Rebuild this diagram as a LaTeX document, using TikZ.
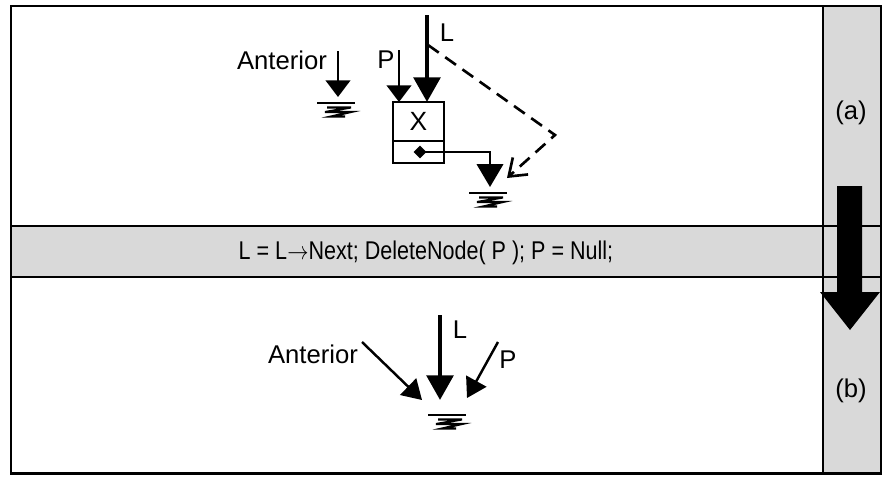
\documentclass[tikz,border=0pt]{standalone}
\usepackage{fontspec}
\setmainfont{Liberation Sans}
\usetikzlibrary{arrows.meta,shapes.geometric}
\definecolor{panelgray}{RGB}{217,217,217}
\tikzset{
  lab/.style={font=\fontsize{14.6}{17}\selectfont, inner sep=0pt},
  cell/.style={draw, line width=1.4pt, minimum width=1.02cm, inner sep=0pt, outer sep=0pt,
    font=\fontsize{15}{17}\selectfont},
  thickarrow/.style={line width=2.6pt, -{Triangle[width=15pt,length=14pt]}},
  thinarrow/.style={line width=1.4pt, -{Triangle[width=14pt,length=9.5pt]}},
  slantarrow/.style={line width=1.4pt, -{Triangle[width=13pt,length=11pt]}},
  dasharrow/.style={line width=1.5pt, dash pattern=on 7.5pt off 4.5pt,
    -{Straight Barb[width=13pt,length=9pt,line width=1.5pt]}},
  ground/.pic={
    \draw[line width=1.4pt] (-19,0) -- (19,0);
    \draw[line width=1.2pt] (-9,4.5) -- (15,4.5) -- (-11,9) -- (15,9) -- (-5,13.5) -- (9,13.5);
  }
}
\begin{document}
\begin{tikzpicture}[x=0.02cm, y=-0.02cm]
    \useasboundingbox (0,0) rectangle (890,484);
    % Panels and frame
    \fill[panelgray] (823,6) rectangle (881,473);
    \fill[panelgray] (11,226) rectangle (881,277);
    \draw[line width=1.7pt] (11,226) -- (881,226) (11,277) -- (881,277);
    \draw[line width=1.7pt] (823,6) -- (823,473);
    \draw[line width=1.7pt] (11,6) rectangle (881,473);

    % Step arrow in the side column
    \fill (837,186) -- (862,186) -- (862,292) -- (880,292) -- (850,330) -- (820,292) -- (837,292) -- cycle;

    % Side labels and code line
    \node[lab, anchor=base] (stepa) at (851,119) {(a)};
    \node[lab, anchor=base] (stepb) at (851,397) {(b)};
    \node[lab, anchor=base] (code) at (426,259)
        {\scalebox{0.84}[1]{L = L$\rightarrow$Next; DeleteNode( P ); P = Null;}};

    % Step (a)
    \node[lab] (antA) at (282,60) {Anterior};
    \coordinate (antAtop) at (338,51);
    \coordinate (antAtip) at (338,97);
    \draw[thinarrow] (antAtop) -- (antAtip);
    \pic at (336,103) {ground};

    \node[cell, minimum height=0.78cm] (xcell) at (418.5,121.5) {X};
    \node[cell, minimum height=0.44cm, anchor=north] (nextcell) at (xcell.south) {};
    \node[diamond, fill, inner sep=0pt, minimum size=7.5pt] (ptr) at ([xshift=0.03cm]nextcell.center) {};
    \coordinate (ptrtip) at (490,187);
    \draw[line width=1.4pt, -{Triangle[width=15pt,length=13pt]}] (ptr.center) -| (ptrtip);
    \pic at (488,193) {ground};

    \node[lab] (pA) at (386,60) {P};
    \coordinate (pAtop) at (399,50);
    \draw[thinarrow] (pAtop) -- (pAtop |- xcell.north);

    \node[lab] (lA) at (447,33) {L};
    \coordinate (lAtop) at (427,15);
    \coordinate (lAmid) at (428,45);
    \coordinate (bend) at (555,135);
    \coordinate (dashtip) at (507,178);
    \draw[thickarrow] (lAtop) -- (lAtop |- xcell.north);
    \draw[dasharrow] (lAmid) -- (bend) -- (dashtip);

    % Step (b)
    \node[lab] (antB) at (313,354) {Anterior};
    \node[lab] (lB) at (460,330) {L};
    \node[lab] (pB) at (508,360) {P};
    \coordinate (lBtop) at (440,315);
    \coordinate (lBtip) at (440,400);
    \coordinate (antBtail) at (362,342);
    \coordinate (antBtip) at (422,400);
    \coordinate (pBtail) at (498,342);
    \coordinate (pBtip) at (467,398);
    \draw[thickarrow] (lBtop) -- (lBtip);
    \draw[slantarrow] (antBtail) -- (antBtip);
    \draw[slantarrow] (pBtail) -- (pBtip);
    \pic at (447,415) {ground};
\end{tikzpicture}
\end{document}
